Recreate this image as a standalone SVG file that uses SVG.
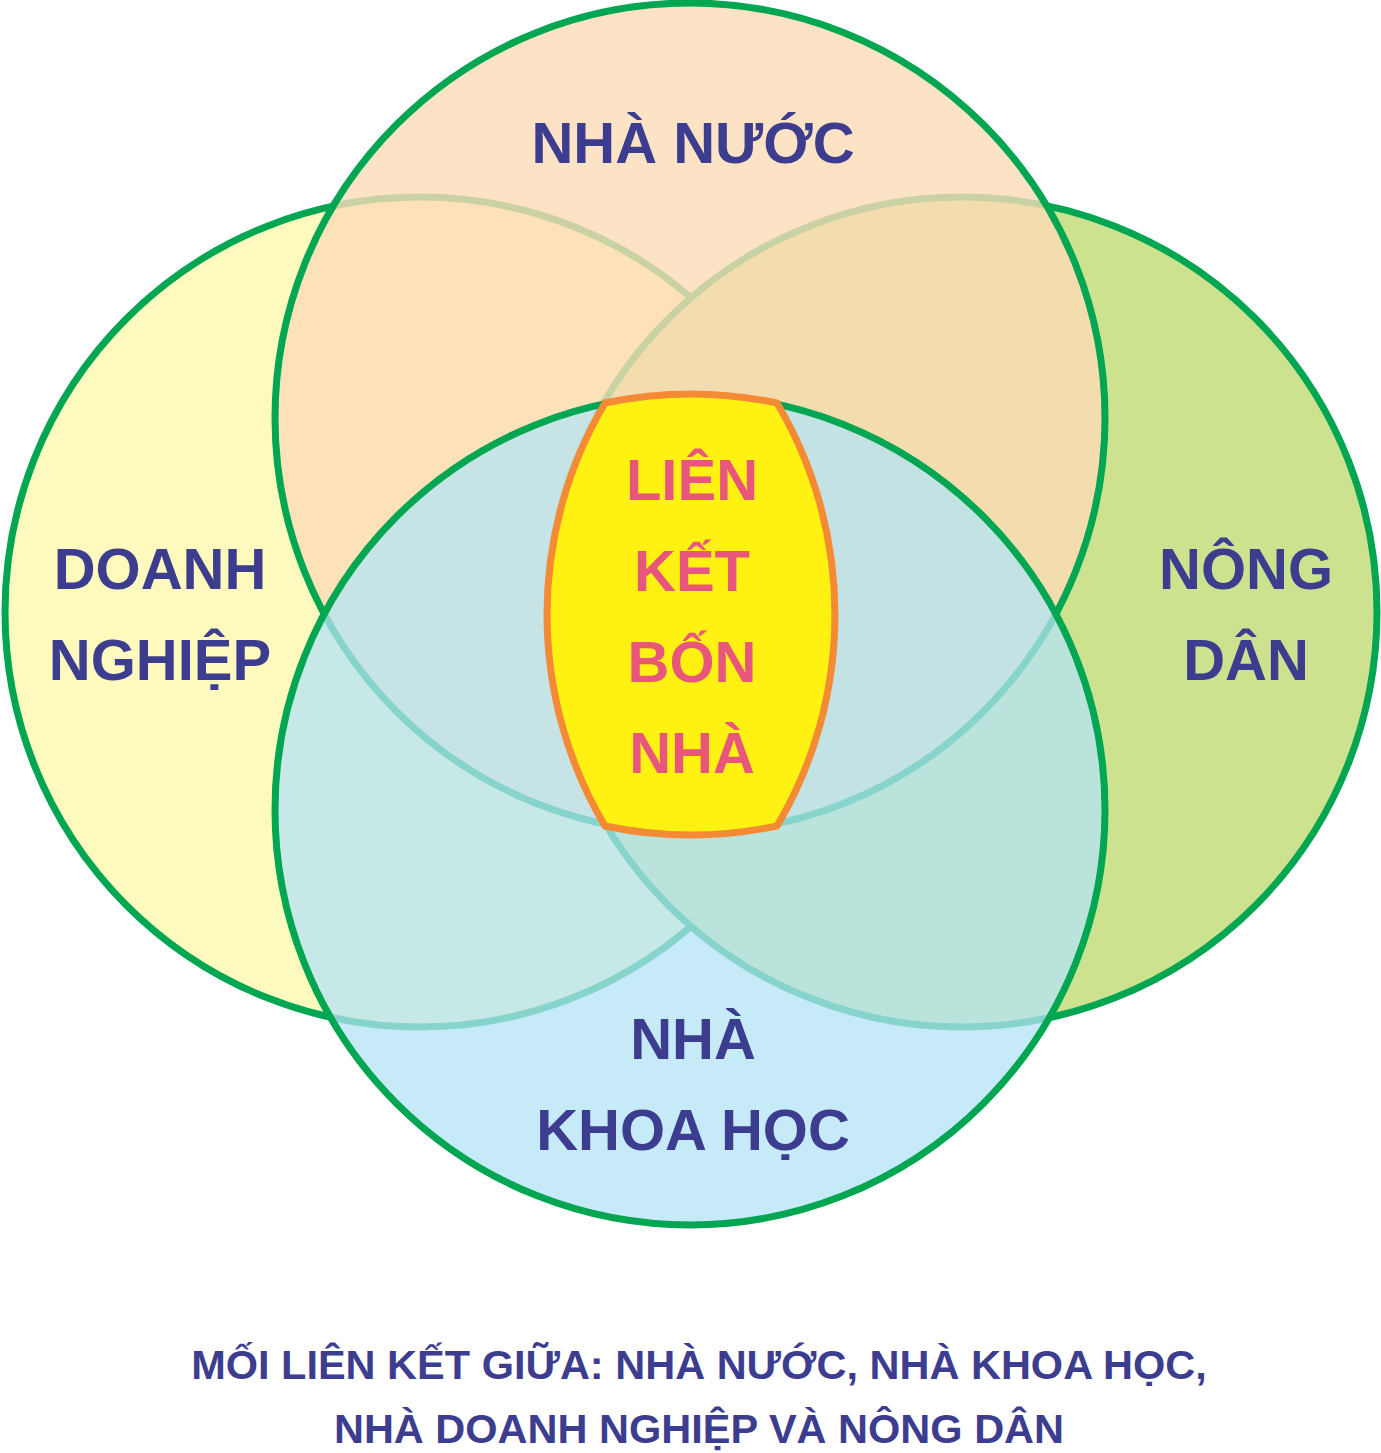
<svg xmlns="http://www.w3.org/2000/svg" width="1381" height="1453" viewBox="0 0 1381 1453">
<style>
.c{stroke:#00a651;stroke-width:7}
.t{font-family:"Liberation Sans",Arial,sans-serif;font-weight:bold;font-size:58px;fill:#3d3d8f;text-anchor:middle}
.p{fill:#e8577b}
.cap{font-size:41.5px}
</style>
<rect width="1381" height="1453" fill="#fff"/>
<g id="doanh-nghiep"><circle class="c" cx="420" cy="612" r="415" fill="#fef9bd"/></g>
<g id="nong-dan"><circle class="c" cx="962" cy="612" r="415" fill="#cde28e"/></g>
<g id="nha-nuoc"><circle class="c" cx="690" cy="418" r="415" fill="#fddcb8" fill-opacity="0.8"/></g>
<g id="nha-khoa-hoc"><circle class="c" cx="690" cy="810" r="415" fill="#b3e3f5" fill-opacity="0.75"/></g>
<g id="lien-ket"><path d="M605,403 A415,415 0 0,1 777,403 A415,415 0 0,1 777,826 A415,415 0 0,1 605,826 A415,415 0 0,1 605,403 Z" fill="#fff212" stroke="#f58a35" stroke-width="7"/></g>
<g id="labels">
<text class="t" x="693" y="163">NHÀ NƯỚC</text>
<text class="t" x="160" y="589">DOANH</text>
<text class="t" x="160" y="680">NGHIỆP</text>
<text class="t" x="1246" y="589">NÔNG</text>
<text class="t" x="1246" y="680">DÂN</text>
<text class="t" x="693" y="1059">NHÀ</text>
<text class="t" x="693" y="1150">KHOA HỌC</text>
<text class="t p" x="692" y="500">LIÊN</text>
<text class="t p" x="692" y="591">KẾT</text>
<text class="t p" x="692" y="682">BỐN</text>
<text class="t p" x="692" y="773">NHÀ</text>
<text class="t cap" x="699" y="1379">MỐI LIÊN KẾT GIỮA: NHÀ NƯỚC, NHÀ KHOA HỌC,</text>
<text class="t cap" x="699" y="1443">NHÀ DOANH NGHIỆP VÀ NÔNG DÂN</text>
</g>
</svg>
